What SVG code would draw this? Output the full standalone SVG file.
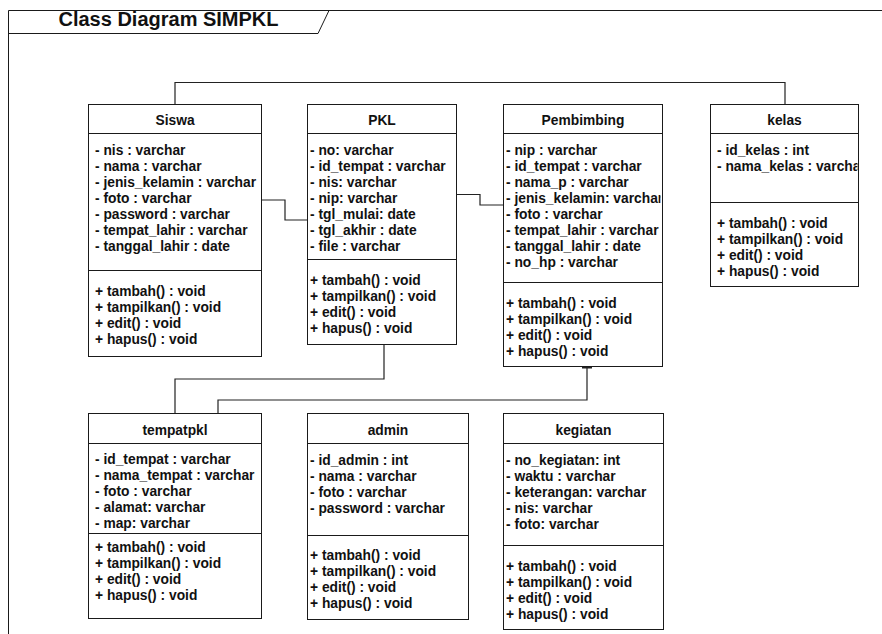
<svg xmlns="http://www.w3.org/2000/svg" width="882" height="634" viewBox="0 0 882 634">
<style>
.bx{fill:#fff;stroke:#1a1a1a;stroke-width:1}
.ln{fill:none;stroke:#1a1a1a;stroke-width:1}
.cn{fill:none;stroke:#222;stroke-width:1.2}
text{font-family:"Liberation Sans",Arial,sans-serif;font-size:13.8px;font-weight:bold;fill:#111}
.h{text-anchor:middle}
.t{font-size:20px;text-anchor:middle}
</style>
<defs>
<clipPath id="cpPem"><rect x="503" y="133" width="157.5" height="150"/></clipPath>
<clipPath id="cpKel"><rect x="710" y="133" width="147.5" height="70"/></clipPath>
</defs>
<rect x="0" y="0" width="882" height="634" fill="#fff"/>
<g id="frame">
<path class="ln" d="M8.5,634 V10.5 H882"/>
<path class="ln" d="M8.5,33.5 H318 L329,10.5"/>
<text class="t" x="168.5" y="26">Class Diagram SIMPKL</text>
</g>
<g id="connectors">
<path class="cn" d="M175,104 V82.5 H785 V104"/>
<path class="cn" d="M262,200 H285 V220 H308"/>
<path class="cn" d="M308.5,214 V226" style="stroke-width:2"/>
<path class="cn" d="M457,194.5 H480 V205 H503"/>
<path class="cn" d="M384,345 V379 H175 V413"/>
<path class="cn" d="M587,367 V400 H218 V413"/>
<path class="cn" d="M582,367.5 H592" style="stroke-width:2"/>
</g>
<g id="siswa">
<rect class="bx" x="88.5" y="104.5" width="173" height="252"/>
<path class="ln" d="M88.5,133.5 H261.5 M88.5,270.5 H261.5"/>
<text class="h" x="175" y="125">Siswa</text>
<text x="95" y="155">- nis : varchar</text>
<text x="95" y="171">- nama : varchar</text>
<text x="95" y="187">- jenis_kelamin : varchar</text>
<text x="95" y="203">- foto : varchar</text>
<text x="95" y="219">- password : varchar</text>
<text x="95" y="235">- tempat_lahir : varchar</text>
<text x="95" y="251">- tanggal_lahir : date</text>
<text x="95" y="296">+ tambah() : void</text>
<text x="95" y="312">+ tampilkan() : void</text>
<text x="95" y="328">+ edit() : void</text>
<text x="95" y="344">+ hapus() : void</text>
</g>
<g id="pkl">
<rect class="bx" x="307.5" y="104.5" width="149" height="240"/>
<path class="ln" d="M307.5,133.5 H456.5 M307.5,259.5 H456.5"/>
<text class="h" x="382" y="125">PKL</text>
<text x="310" y="155">- no: varchar</text>
<text x="310" y="171">- id_tempat : varchar</text>
<text x="310" y="187">- nis: varchar</text>
<text x="310" y="203">- nip: varchar</text>
<text x="310" y="219">- tgl_mulai: date</text>
<text x="310" y="235">- tgl_akhir : date</text>
<text x="310" y="251">- file : varchar</text>
<text x="310" y="285">+ tambah() : void</text>
<text x="310" y="301">+ tampilkan() : void</text>
<text x="310" y="317">+ edit() : void</text>
<text x="310" y="333">+ hapus() : void</text>
</g>
<g id="pembimbing">
<rect class="bx" x="503.5" y="104.5" width="159" height="262"/>
<path class="ln" d="M503.5,133.5 H662.5 M503.5,282.5 H662.5"/>
<text class="h" x="583" y="125">Pembimbing</text>
<g clip-path="url(#cpPem)">
<text x="506" y="155">- nip : varchar</text>
<text x="506" y="171">- id_tempat : varchar</text>
<text x="506" y="187">- nama_p : varchar</text>
<text x="506" y="203">- jenis_kelamin: varchar</text>
<text x="506" y="219">- foto : varchar</text>
<text x="506" y="235">- tempat_lahir : varchar</text>
<text x="506" y="251">- tanggal_lahir : date</text>
<text x="506" y="267">- no_hp : varchar</text>
</g>
<text x="506" y="308">+ tambah() : void</text>
<text x="506" y="324">+ tampilkan() : void</text>
<text x="506" y="340">+ edit() : void</text>
<text x="506" y="356">+ hapus() : void</text>
</g>
<g id="kelas">
<rect class="bx" x="710.5" y="104.5" width="148" height="182"/>
<path class="ln" d="M710.5,133.5 H858.5 M710.5,202.5 H858.5"/>
<text class="h" x="784.5" y="125">kelas</text>
<g clip-path="url(#cpKel)">
<text x="717" y="155">- id_kelas : int</text>
<text x="717" y="171">- nama_kelas : varchar</text>
</g>
<text x="717" y="228">+ tambah() : void</text>
<text x="717" y="244">+ tampilkan() : void</text>
<text x="717" y="260">+ edit() : void</text>
<text x="717" y="276">+ hapus() : void</text>
</g>
<g id="tempatpkl">
<rect class="bx" x="88.5" y="413.5" width="173" height="205"/>
<path class="ln" d="M88.5,443.5 H261.5 M88.5,533.5 H261.5"/>
<text class="h" x="175" y="435">tempatpkl</text>
<text x="95" y="464">- id_tempat : varchar</text>
<text x="95" y="480">- nama_tempat : varchar</text>
<text x="95" y="496">- foto : varchar</text>
<text x="95" y="512">- alamat: varchar</text>
<text x="95" y="528">- map: varchar</text>
<text x="95" y="552">+ tambah() : void</text>
<text x="95" y="568">+ tampilkan() : void</text>
<text x="95" y="584">+ edit() : void</text>
<text x="95" y="600">+ hapus() : void</text>
</g>
<g id="admin">
<rect class="bx" x="307.5" y="413.5" width="161" height="206"/>
<path class="ln" d="M307.5,443.5 H468.5 M307.5,535.5 H468.5"/>
<text class="h" x="388" y="435">admin</text>
<text x="310" y="464.5">- id_admin : int</text>
<text x="310" y="480.5">- nama : varchar</text>
<text x="310" y="496.5">- foto : varchar</text>
<text x="310" y="512.5">- password : varchar</text>
<text x="310" y="560">+ tambah() : void</text>
<text x="310" y="576">+ tampilkan() : void</text>
<text x="310" y="592">+ edit() : void</text>
<text x="310" y="608">+ hapus() : void</text>
</g>
<g id="kegiatan">
<rect class="bx" x="503.5" y="413.5" width="160" height="216"/>
<path class="ln" d="M503.5,443.5 H663.5 M503.5,545.5 H663.5"/>
<text class="h" x="583.5" y="435">kegiatan</text>
<text x="506" y="464.5">- no_kegiatan: int</text>
<text x="506" y="480.5">- waktu : varchar</text>
<text x="506" y="496.5">- keterangan: varchar</text>
<text x="506" y="512.5">- nis: varchar</text>
<text x="506" y="528.5">- foto: varchar</text>
<text x="506" y="571">+ tambah() : void</text>
<text x="506" y="587">+ tampilkan() : void</text>
<text x="506" y="603">+ edit() : void</text>
<text x="506" y="619">+ hapus() : void</text>
</g>
</svg>
